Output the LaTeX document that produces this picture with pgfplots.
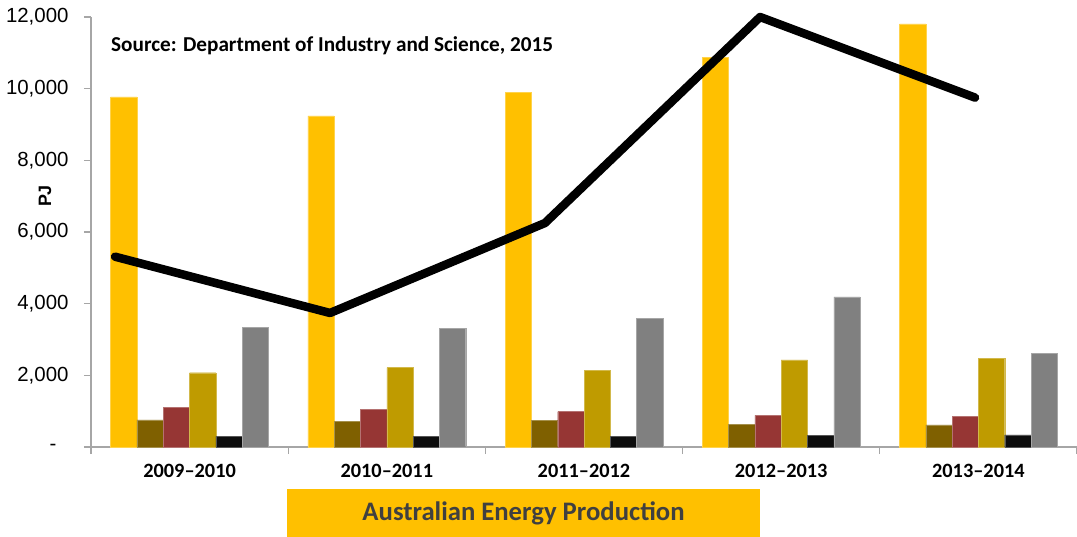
\documentclass[border=0pt]{standalone}
\usepackage{pgfplots}
\pgfplotsset{compat=1.18}
\usepackage{fontspec}
\setmainfont{Liberation Sans}
\newfontfamily\calibri{Carlito}
\definecolor{cYel}{HTML}{FFC000}
\definecolor{cOli}{HTML}{7F6000}
\definecolor{cRed}{HTML}{963634}
\definecolor{cGold}{HTML}{BF9B00}
\definecolor{cBlk}{HTML}{0D0D0D}
\definecolor{cGry}{HTML}{808080}
\definecolor{cAx}{HTML}{A6A6A6}
\definecolor{cTit}{HTML}{404040}
\pgfplotstableread{
x yel oli red gold blk gry
0 9770 754 1116 2073 298 3330
1 9240 725 1052 2214 298 3312
2 9890 744 986 2140 298 3581
3 10880 633 884 2428 326 4186
4 11805 614 856 2475 335 2614
}\bars
\pgfplotstableread{
x y
-0.378 5311
0.712 3740
1.802 6250
2.893 12000
3.983 9750
}\line
\begin{document}
\begin{tikzpicture}
\path[use as bounding box] (-91bp,-90bp) rectangle (986bp,447bp);
\begin{axis}[
  at={(0,0)}, anchor=south west,
  scale only axis, width=986bp, height=430bp,
  xmin=-0.5, xmax=4.5, ymin=0, ymax=12000,
  scaled y ticks=false,
  axis x line*=bottom, axis y line*=left,
  axis line style={cAx, line width=1.2bp, -},
  xtick={0,1,2,3,4},
  xticklabels={2009–2010,2010–2011,2011–2012,2012–2013,2013–2014},
  x tick label style={font=\calibri\bfseries\fontsize{20.4}{22}\selectfont, yshift=-7bp},
  major x tick style={draw=none},
  minor xtick={-0.5,0.5,1.5,2.5,3.5,4.5},
  minor x tick style={cAx, line width=1.2bp},
  minor tick length=7bp,
  ytick={0,2000,4000,6000,8000,10000,12000},
  yticklabels={{-\rule{12bp}{0pt}},{2,000},{4,000},{6,000},{8,000},{10,000},{12,000}},
  y tick label style={font=\fontsize{20.5}{22}\selectfont, xshift=-12bp},
  major y tick style={cAx, line width=1.2bp},
  major tick length=7bp,
  tick align=outside,
  clip=false,
]
\addplot[ybar, bar width=26.3bp, bar shift=-65.75bp, fill=cYel, draw=cYel!70!white, line width=0.4bp] table[x=x,y=yel]{\bars};
\addplot[ybar, bar width=26.3bp, bar shift=-39.45bp, fill=cOli, draw=cOli!70!white, line width=0.4bp] table[x=x,y=oli]{\bars};
\addplot[ybar, bar width=26.3bp, bar shift=-13.15bp, fill=cRed, draw=cRed!70!white, line width=0.4bp] table[x=x,y=red]{\bars};
\addplot[ybar, bar width=26.3bp, bar shift=13.15bp, fill=cGold, draw=cGold!70!white, line width=0.4bp] table[x=x,y=gold]{\bars};
\addplot[ybar, bar width=26.3bp, bar shift=39.45bp, fill=cBlk, draw=cBlk!70!white, line width=0.4bp] table[x=x,y=blk]{\bars};
\addplot[ybar, bar width=26.3bp, bar shift=65.75bp, fill=cGry, draw=cGry!70!white, line width=0.4bp] table[x=x,y=gry]{\bars};
\addplot[black, line width=8.5bp, line cap=round, line join=round, mark=none, sharp plot] table[x=x,y=y]{\line};
\end{axis}
\node[anchor=west, font=\calibri\bfseries\fontsize{21.3}{23}\selectfont, inner sep=0] at (20bp,401bp) {Source: Department of Industry and Science, 2015};
\node[rotate=90, font=\bfseries\fontsize{18}{20}\selectfont, inner sep=0] at (-46bp,251bp) {PJ};
\node[fill=cYel, minimum width=473bp, minimum height=48bp, inner sep=0, text=cTit, font=\calibri\bfseries\fontsize{26.8}{29}\selectfont] at (432.5bp,-66bp) {Australian Energy Production};
\end{tikzpicture}
\end{document}
